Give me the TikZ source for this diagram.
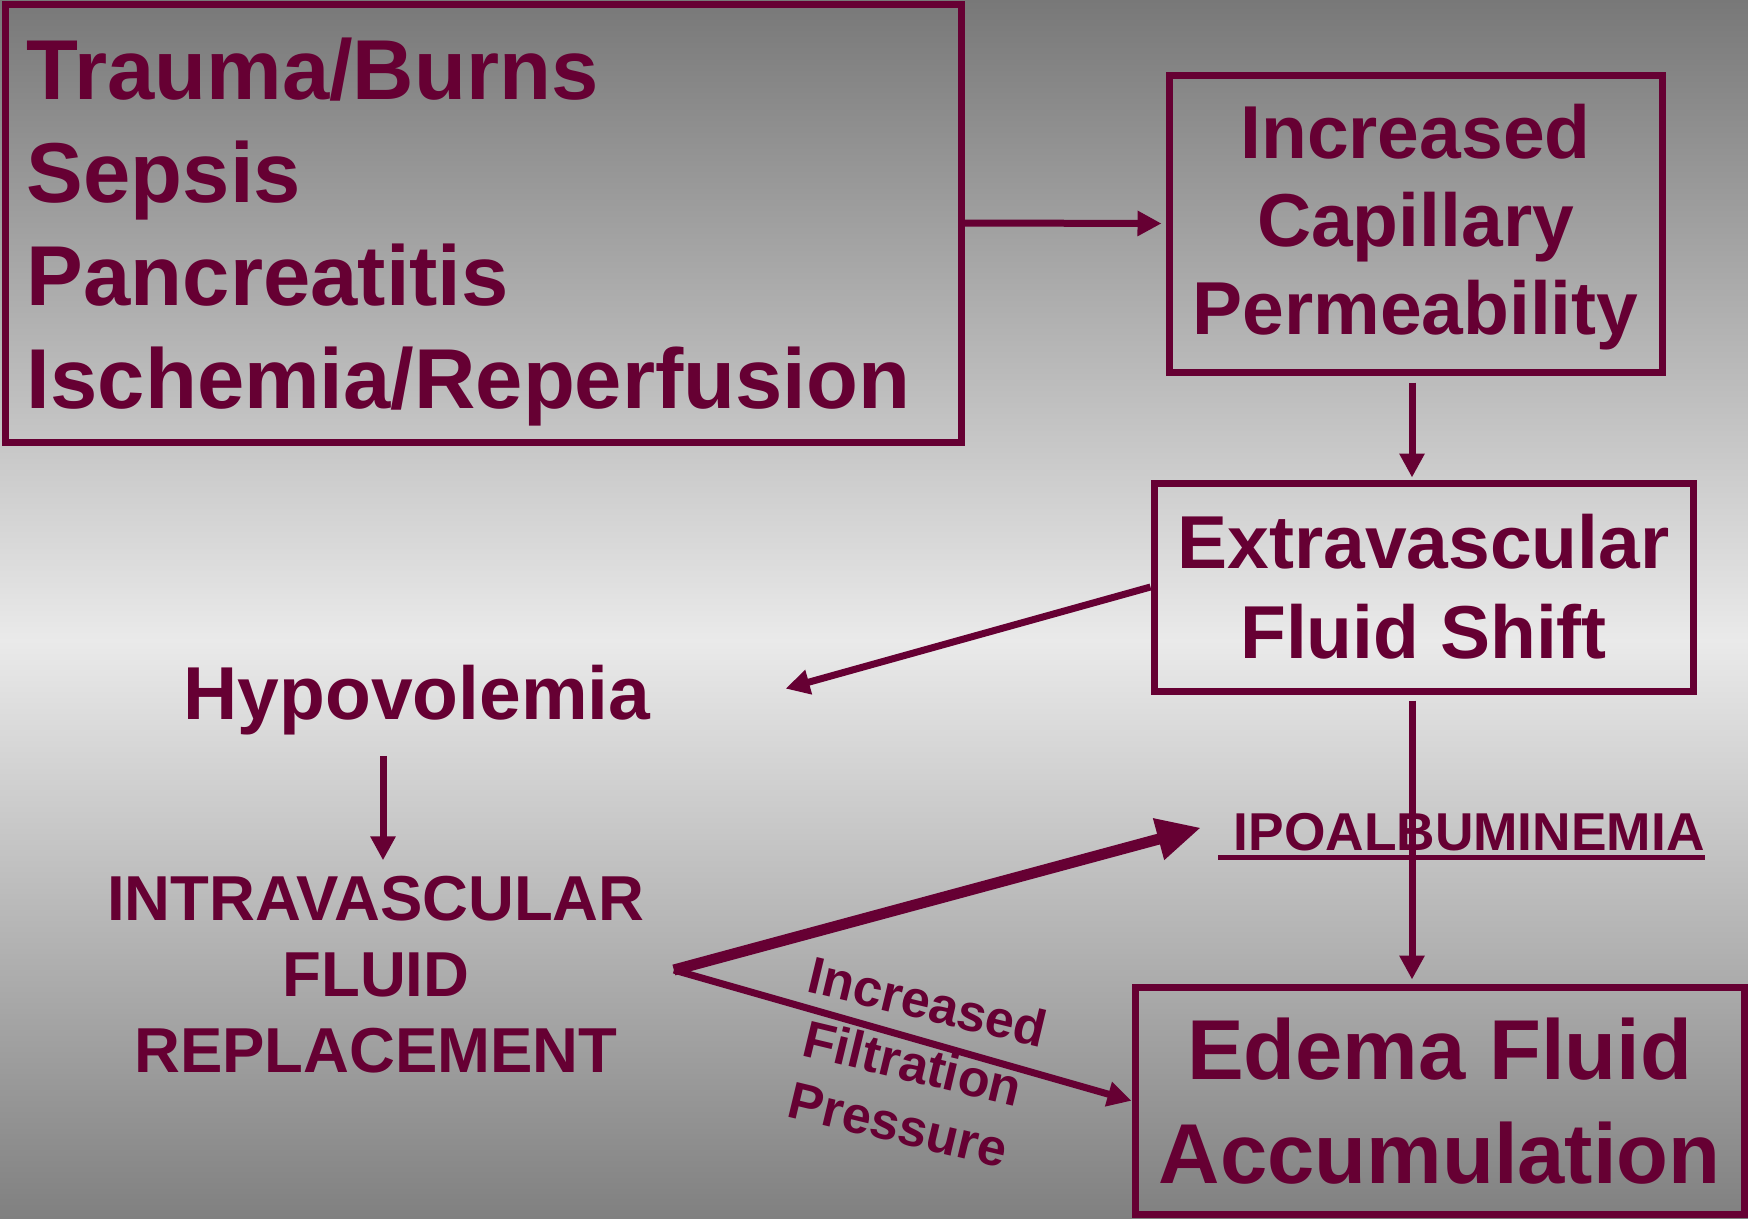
\documentclass[tikz,border=0pt]{standalone}
\usepackage{fontspec}
\setmainfont{Liberation Sans}
\usetikzlibrary{arrows.meta}
\definecolor{maroon}{HTML}{660033}
\definecolor{bgtop}{RGB}{120,120,120}
\definecolor{bgmid}{RGB}{234,234,234}
\definecolor{bgbot}{RGB}{128,128,128}
\begin{document}
\begin{tikzpicture}[x=1pt,y=-1pt,
  box/.style={draw=maroon, line width=7pt, text=maroon, inner sep=0pt},
  lbl/.style={text=maroon, inner sep=0pt},
  arr/.style={draw=maroon, line width=7pt, -{Triangle[length=24pt,width=24pt]}},
  bigarr/.style={draw=maroon, line width=11pt, -{Triangle[length=44pt,width=40pt]}}]
\useasboundingbox (0,0) rectangle (1748,1218);
\shade[top color=bgtop, bottom color=bgmid] (0,0) rectangle (1748,641);
\shade[top color=bgmid, bottom color=bgbot] (0,640) rectangle (1748,1218);

% boxes
\node[box, minimum width=956pt, minimum height=438pt] (b1) at (483,223) {};
\node[lbl, text width=912pt, align=left, font={\fontsize{85}{103}\selectfont\bfseries}] (t1)
  at ([yshift=-9pt]b1.center) {Trauma/Burns\\Sepsis\\Pancreatitis\\Ischemia/Reperfusion};
\node[box, minimum width=493pt, minimum height=297pt] (b2) at (1415.5,223.5) {};
\node[lbl, align=center, font={\fontsize{75}{88}\selectfont\bfseries}] (t2)
  at ([yshift=-4pt]b2.center) {Increased\\Capillary\\Permeability};
\node[box, minimum width=539pt, minimum height=208pt, align=center,
      font={\fontsize{75}{90}\selectfont\bfseries}] (b3) at (1423.5,587)
  {Extravascular\\Fluid Shift};
\node[box, minimum width=609.5pt, minimum height=227.5pt, align=center,
      font={\fontsize{85}{104}\selectfont\bfseries}] (b4) at (1439.75,1100.75)
  {Edema Fluid\\Accumulation};

% free labels
\node[lbl, anchor=base, font={\fontsize{75}{90}\selectfont\bfseries}] (hypo) at (417,719) {Hypovolemia};
\node[lbl, align=center, font={\fontsize{63.5}{76}\selectfont\bfseries}] (intra) at (376,975)
  {INTRAVASCULAR\\FLUID\\REPLACEMENT};
\node[lbl, anchor=base west, font={\fontsize{53.3}{64}\selectfont\bfseries}] (ipo) at (1218,850)
  {\hspace*{15.5pt}IPOALBUMINEMIA};
\draw[maroon, line width=5pt] ([yshift=-7pt]ipo.base west) -- ([yshift=-7pt]ipo.base east);
\node[lbl, rotate=-13.5, align=center, font={\fontsize{52}{63}\selectfont\bfseries}] (ifp) at (913,1063)
  {Increased\\Filtration\\Pressure};

% connectors
\coordinate (v1) at (1412,0);
\coordinate (fork) at ([xshift=29pt,yshift=5pt]intra.east);
\draw[arr, shorten >=4pt] (b1.east) -- (b2.west);
\draw[arr, shorten <=7pt, shorten >=2pt] (v1 |- b2.south) -- (v1 |- b3.north);
\draw[arr] (b3.west) -- ([xshift=135pt,yshift=11pt]hypo.east);
\draw[arr] ([xshift=-34pt,yshift=-21pt]hypo.south) -- ([xshift=7pt,yshift=16pt]intra.north);
\draw[bigarr] (fork) -- ([xshift=-17pt,yshift=4pt]ipo.west);
\draw[arr] (fork) -- (b4.west);
\draw[arr, shorten <=6pt, shorten >=4pt] (v1 |- b3.south) -- (v1 |- b4.north);
\end{tikzpicture}
\end{document}
